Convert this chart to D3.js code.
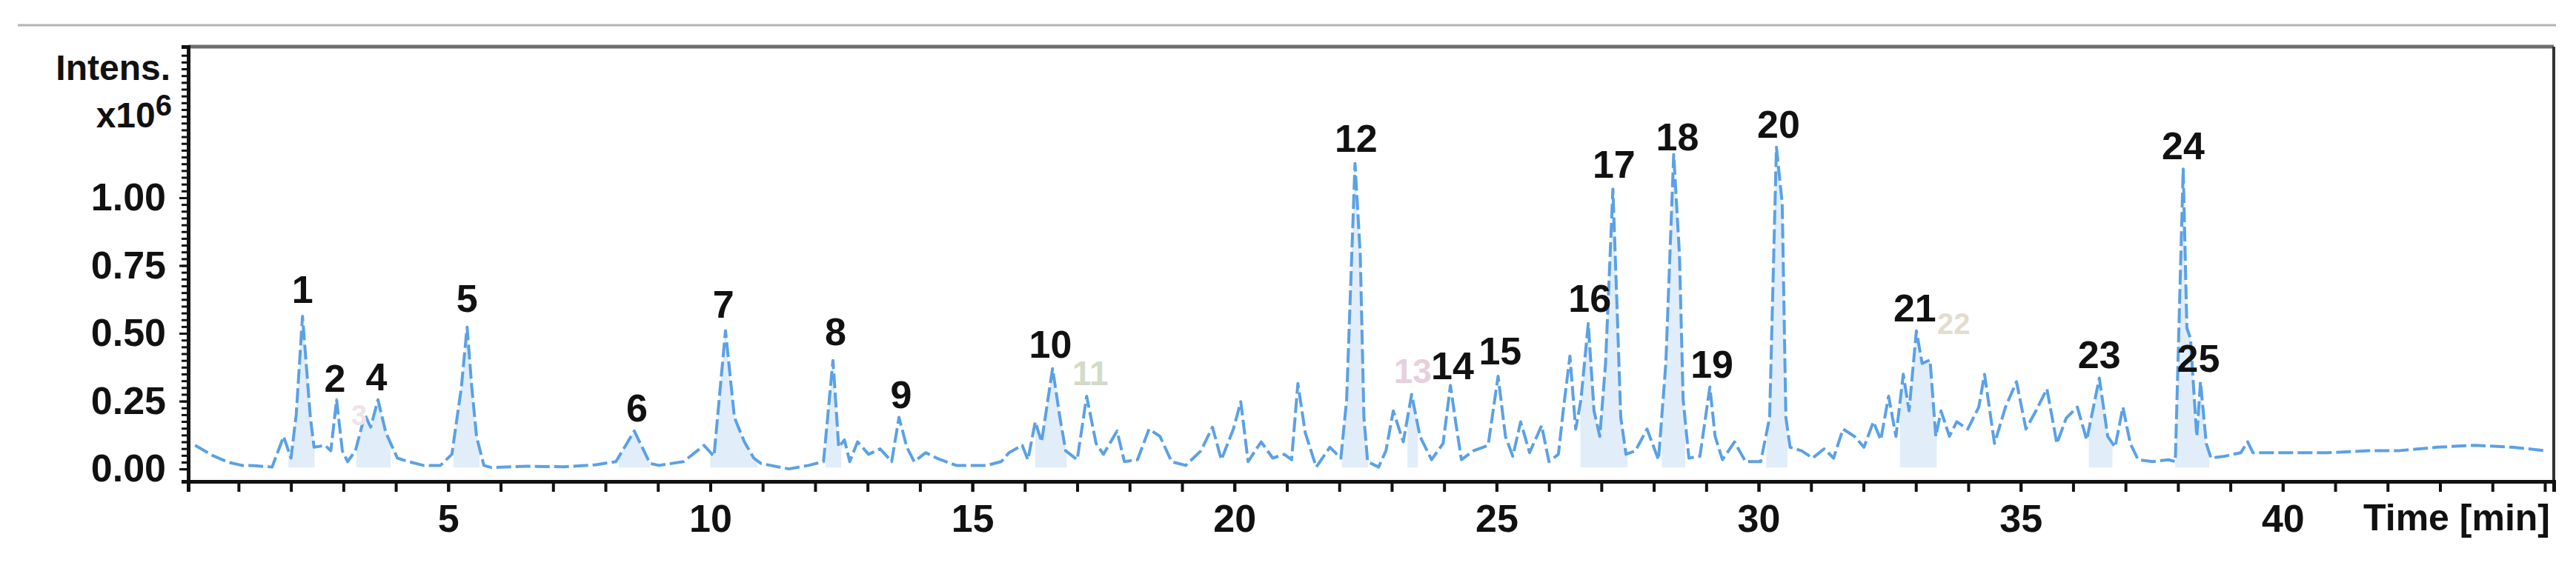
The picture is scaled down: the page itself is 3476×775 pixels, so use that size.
<!DOCTYPE html>
<html>
<head>
<meta charset="utf-8">
<script src="https://cdn.jsdelivr.net/npm/d3@7"></script>
<style>
  body { margin: 0; background: #fff; }
  svg text { font-family: "Liberation Sans", Arial, sans-serif; font-weight: bold; }
</style>
</head>
<body>
<svg id="chart"></svg>
<script>
// Chromatogram trace: retention time (min) and intensity (x10^6)
const times = [
  0.17, 0.5, 0.8, 1.07, 1.3, 1.64, 1.86, 2.0, 2.1, 2.22, 2.37, 2.44, 2.65, 2.76, 2.87, 2.98,
  3.08, 3.23, 3.41, 3.52, 3.66, 3.81, 4.03, 4.24, 4.53, 4.85, 5.07, 5.25, 5.36, 5.45, 5.54, 5.68,
  5.83, 6.5, 7.2, 7.8, 8.2, 8.55, 8.85, 9.02, 9.49, 9.88, 10.07, 10.29, 10.46, 10.65, 10.83, 10.97,
  11.5, 11.87, 12.16, 12.34, 12.45, 12.56, 12.66, 12.81, 13.02, 13.24, 13.46, 13.6, 13.75, 13.89,
  14.11, 14.32, 14.69, 15.27, 15.55, 15.7, 15.95, 16.06, 16.2, 16.32, 16.53, 16.67, 16.78, 17.0,
  17.18, 17.36, 17.5, 17.76, 17.9, 18.15, 18.37, 18.58, 18.8, 19.07, 19.36, 19.58, 19.75, 19.98,
  20.12, 20.26, 20.51, 20.73, 20.95, 21.09, 21.21, 21.35, 21.56, 21.82, 22.03, 22.14, 22.3, 22.4,
  22.47, 22.54, 22.75, 22.89, 23.03, 23.22, 23.38, 23.54, 23.76, 23.98, 24.12, 24.23, 24.33, 24.56,
  24.84, 25.03, 25.17, 25.31, 25.46, 25.63, 25.86, 26.0, 26.18, 26.28, 26.4, 26.51, 26.61, 26.75,
  26.86, 26.97, 27.08, 27.22, 27.3, 27.37, 27.47, 27.65, 27.87, 28.09, 28.23, 28.38, 28.49, 28.56,
  28.67, 28.88, 29.07, 29.17, 29.31, 29.54, 29.75, 30.04, 30.21, 30.34, 30.45, 30.52, 30.6, 30.82,
  31.03, 31.25, 31.43, 31.61, 31.83, 32.01, 32.19, 32.33, 32.48, 32.62, 32.76, 32.87, 33.01, 33.12,
  33.27, 33.38, 33.48, 33.64, 33.78, 33.99, 34.2, 34.31, 34.5, 34.71, 34.92, 35.1, 35.29, 35.5,
  35.69, 35.87, 36.08, 36.26, 36.5, 36.66, 36.8, 36.95, 37.09, 37.24, 37.52, 37.82, 37.95, 38.1,
  38.17, 38.24, 38.3, 38.36, 38.43, 38.54, 38.63, 38.89, 39.2, 39.33, 39.43, 40.13, 40.85, 41.64,
  42.2, 42.94, 43.66, 44.38, 45.03
];
const intensities = [
  0.087, 0.05, 0.025, 0.013, 0.012, 0.007, 0.12, 0.04, 0.2, 0.563, 0.19, 0.08, 0.087, 0.067, 0.255, 0.067,
  0.027, 0.067, 0.2, 0.154, 0.255, 0.134, 0.04, 0.027, 0.013, 0.013, 0.054, 0.3, 0.523, 0.3, 0.12, 0.013,
  0.005, 0.01, 0.008, 0.015, 0.027, 0.14, 0.02, 0.013, 0.027, 0.087, 0.047, 0.51, 0.19, 0.1, 0.04, 0.02,
  0.0, 0.013, 0.027, 0.4, 0.08, 0.107, 0.027, 0.1, 0.054, 0.074, 0.027, 0.19, 0.08, 0.027,
  0.06, 0.04, 0.013, 0.013, 0.027, 0.06, 0.087, 0.034, 0.174, 0.1, 0.37, 0.19, 0.067, 0.034,
  0.268, 0.094, 0.054, 0.14, 0.027, 0.034, 0.147, 0.12, 0.027, 0.013, 0.067, 0.154, 0.034, 0.147,
  0.248, 0.027, 0.1, 0.04, 0.054, 0.034, 0.315, 0.134, 0.007, 0.08, 0.04, 0.255, 1.126, 0.79,
  0.19, 0.027, 0.007, 0.067, 0.214, 0.1, 0.275, 0.12, 0.034, 0.094, 0.308, 0.16, 0.034, 0.067,
  0.087, 0.342, 0.12, 0.047, 0.174, 0.06, 0.16, 0.027, 0.054, 0.228, 0.416, 0.147, 0.255, 0.536,
  0.214, 0.12, 0.39, 1.032, 0.59, 0.19, 0.054, 0.067, 0.147, 0.034, 0.39, 1.16, 0.79, 0.255,
  0.04, 0.047, 0.302, 0.12, 0.034, 0.1, 0.027, 0.027, 0.19, 1.186, 0.98, 0.19, 0.08, 0.067,
  0.04, 0.074, 0.04, 0.147, 0.12, 0.08, 0.174, 0.107, 0.268, 0.12, 0.349, 0.214, 0.509, 0.389,
  0.402, 0.12, 0.214, 0.12, 0.174, 0.147, 0.228, 0.349, 0.094, 0.228, 0.322, 0.147, 0.214, 0.295,
  0.094, 0.188, 0.228, 0.107, 0.335, 0.12, 0.08, 0.228, 0.094, 0.034, 0.027, 0.034, 0.027, 1.106,
  0.52, 0.48, 0.295, 0.12, 0.322, 0.094, 0.04, 0.047, 0.06, 0.1, 0.06, 0.06, 0.06, 0.067,
  0.067, 0.08, 0.087, 0.08, 0.067
];

// Integrated peak windows (shaded), in minutes
const windowStarts = [1.95, 3.25, 5.1, 8.25, 10.0, 12.2, 16.2, 22.05, 23.3, 26.6, 28.15, 30.15, 32.7, 36.3, 37.95];
const windowEnds   = [2.45, 3.9, 5.6, 8.85, 10.9, 12.5, 16.8, 22.55, 23.5, 27.5, 28.6, 30.55, 33.4, 36.75, 38.6];

// Peak labels: number, retention time, label height (x10^6)
const peakNames  = ["1","2","3","4","5","6","7","8","9","10","11","12","13","14","15","16","17","18","19","20","21","22","23","24","25"];
const peakTimes  = [2.22, 2.84, 3.3, 3.63, 5.36, 8.6, 10.25, 12.39, 13.64, 16.49, 17.25, 22.32, 23.4, 24.16, 25.07, 26.78, 27.24, 28.45, 29.11, 30.38, 32.98, 33.72, 36.5, 38.1, 38.39];
const peakLevels = [0.664, 0.336, 0.2, 0.342, 0.631, 0.227, 0.609, 0.508, 0.276, 0.462, 0.355, 1.221, 0.363, 0.383, 0.437, 0.631, 1.126, 1.227, 0.388, 1.273, 0.596, 0.536, 0.423, 1.194, 0.41];
// faint (grey-tinted) labels and their tints
const faintPeaks  = ["3", "11", "13", "22"];
const faintColors = ["#f1e2e7", "#d3dac8", "#e6d0dc", "#e3dccf"];

// Axis ticks
const xTickLabels = [5, 10, 15, 20, 25, 30, 35, 40];
const yTickLabels = [0, 0.25, 0.5, 0.75, 1.0];

const width = 3476, height = 775;
const plotLeft = 254, plotRight = 3446, plotTop = 63, plotBottom = 650;

const svg = d3.select("#chart").attr("width", width).attr("height", height);

const x = d3.scaleLinear().domain([0.04, 45.17]).range([plotLeft, plotRight]);
const y = d3.scaleLinear().domain([-0.046, 1.557]).range([plotBottom, plotTop]);

const trace = times.map((t, i) => ({ t: t, v: intensities[i] }));

// thin rule above the plot
svg.append("line")
  .attr("x1", 24).attr("x2", 3449).attr("y1", 34).attr("y2", 34)
  .attr("stroke", "#b4b4b4").attr("stroke-width", 3);

// shaded peak areas, clipped to the integration windows
const clip = svg.append("defs").append("clipPath").attr("id", "windows");
windowStarts.forEach((s, i) => {
  clip.append("rect")
    .attr("x", x(s)).attr("y", plotTop)
    .attr("width", x(windowEnds[i]) - x(s))
    .attr("height", plotBottom - plotTop);
});

const area = d3.area()
  .x(d => x(d.t))
  .y0(y(0.005))
  .y1(d => y(d.v));

svg.append("path")
  .datum(trace)
  .attr("clip-path", "url(#windows)")
  .attr("fill", "#e1edf9")
  .attr("d", area);

const line = d3.line()
  .x(d => x(d.t))
  .y(d => y(d.v));

svg.append("path")
  .datum(trace)
  .attr("fill", "none")
  .attr("stroke", "#5aa1e6")
  .attr("stroke-width", 4)
  .attr("stroke-linejoin", "round")
  .attr("stroke-dasharray", "20 6")
  .attr("d", line);

// frame
svg.append("line").attr("x1", plotLeft).attr("x2", plotRight).attr("y1", plotTop).attr("y2", plotTop)
  .attr("stroke", "#6e6e6e").attr("stroke-width", 5);
svg.append("line").attr("x1", plotRight).attr("x2", plotRight).attr("y1", plotTop).attr("y2", plotBottom)
  .attr("stroke", "#333").attr("stroke-width", 4);

// x axis: minor ticks every minute, labels every 5
const xAxis = svg.append("g")
  .attr("transform", `translate(0,${plotBottom})`)
  .call(d3.axisBottom(x).tickValues(d3.range(1, 46)).tickSize(14).tickFormat(""));
xAxis.select(".domain").attr("stroke", "#111").attr("stroke-width", 5);
xAxis.selectAll(".tick line").attr("stroke", "#111").attr("stroke-width", 4);

const xLabels = svg.append("g")
  .attr("transform", `translate(0,${plotBottom})`)
  .call(d3.axisBottom(x).tickValues(xTickLabels).tickSize(14).tickPadding(17).tickFormat(d3.format("d")));
xLabels.select(".domain").remove();
xLabels.selectAll(".tick line").attr("stroke", "#111").attr("stroke-width", 4);
xLabels.selectAll("text").attr("font-size", 52).attr("fill", "#111");

svg.append("text")
  .attr("x", 3441).attr("y", 716)
  .attr("text-anchor", "end")
  .attr("font-size", 50)
  .attr("fill", "#111")
  .text("Time [min]");

// y axis: minor ticks every 0.025
const yAxis = svg.append("g")
  .attr("transform", `translate(${plotLeft},0)`)
  .call(d3.axisLeft(y).tickValues(d3.range(0, 1.54, 0.025)).tickSize(9).tickFormat(""));
yAxis.select(".domain").attr("stroke", "#111").attr("stroke-width", 5);
yAxis.selectAll(".tick line").attr("stroke", "#111").attr("stroke-width", 3);

const yLabels = svg.append("g")
  .attr("transform", `translate(${plotLeft},0)`)
  .call(d3.axisLeft(y).tickValues(yTickLabels).tickSize(12).tickPadding(18).tickFormat(d3.format(".2f")));
yLabels.select(".domain").remove();
yLabels.selectAll(".tick line").attr("stroke", "#111").attr("stroke-width", 3);
yLabels.selectAll("text").attr("font-size", 52).attr("fill", "#111");

svg.append("text")
  .attr("x", 230).attr("y", 108)
  .attr("text-anchor", "end")
  .attr("font-size", 48)
  .attr("fill", "#111")
  .text("Intens.");

const unit = svg.append("text")
  .attr("x", 232).attr("y", 172)
  .attr("text-anchor", "end")
  .attr("font-size", 48)
  .attr("fill", "#111");
unit.append("tspan").text("x10");
unit.append("tspan").attr("font-size", 40).attr("dy", -16).text("6");

// peak numbers
svg.append("g")
  .selectAll("text")
  .data(peakNames)
  .join("text")
  .attr("x", (d, i) => x(peakTimes[i]))
  .attr("y", (d, i) => y(peakLevels[i]))
  .attr("dy", "0.36em")
  .attr("text-anchor", "middle")
  .attr("font-size", d => d === "3" ? 38 : (d === "22" ? 40 : (faintPeaks.includes(d) ? 46 : 52)))
  .attr("fill", d => faintPeaks.includes(d) ? faintColors[faintPeaks.indexOf(d)] : "#111")
  .text(d => d);
</script>
</body>
</html>
